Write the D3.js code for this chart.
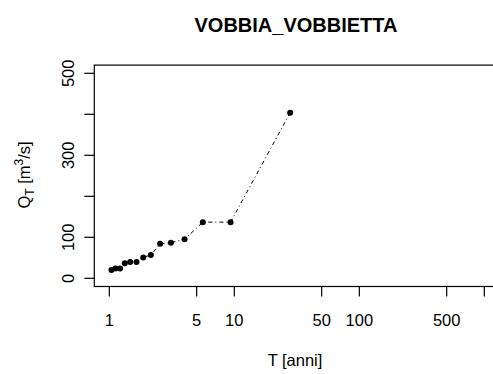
<!DOCTYPE html>
<html><head><meta charset="utf-8">
<script src="https://cdn.jsdelivr.net/npm/d3@7"></script>
<style>body{margin:0;background:#fff}svg{display:block}text{font-family:"Liberation Sans",Arial,sans-serif;fill:#000}</style>
</head><body>
<script>
const title = "VOBBIA_VOBBIETTA";
const returnPeriods = [1.04, 1.12, 1.22, 1.33, 1.47, 1.65, 1.87, 2.15, 2.55, 3.11, 4.0, 5.6, 9.33, 28];
const discharge = [20, 24, 24, 37, 40, 40, 51, 57, 84, 87, 95, 137, 137, 404];
const xTicks = [1, 5, 10, 50, 100, 500, 1000];
const xTickLabels = ["1", "5", "10", "50", "100", "500", ""];
const yTicks = [0, 100, 200, 300, 400, 500];
const yTickLabels = ["0", "100", "", "300", "", "500"];

const W = 493, H = 374;
const svg = d3.select("body").append("svg").attr("width", W).attr("height", H);

const x = d3.scaleLog().domain([1, 1000]).range([109.3, 484.3]);
const y = d3.scaleLinear().domain([0, 500]).range([278.3, 73.3]);

const boxL = x(Math.pow(10, -0.12)), boxR = x(Math.pow(10, 3.12));
const boxT = y(520), boxB = y(-20);

// plot box
svg.append("rect").attr("x", boxL).attr("y", boxT)
  .attr("width", boxR - boxL).attr("height", boxB - boxT)
  .attr("fill", "none").attr("stroke", "#000").attr("stroke-width", 1.2);

// x axis
const xa = svg.append("g");
xTicks.forEach((t, i) => {
  xa.append("line").attr("x1", x(t)).attr("x2", x(t)).attr("y1", boxB).attr("y2", boxB + 10)
    .attr("stroke", "#000").attr("stroke-width", 1.2);
  if (xTickLabels[i]) xa.append("text").attr("x", x(t)).attr("y", 326)
    .attr("text-anchor", "middle").attr("font-size", 16.5).text(xTickLabels[i]);
});

// y axis
const ya = svg.append("g");
yTicks.forEach((t, i) => {
  ya.append("line").attr("x1", boxL - 10).attr("x2", boxL).attr("y1", y(t)).attr("y2", y(t))
    .attr("stroke", "#000").attr("stroke-width", 1.2);
  if (yTickLabels[i]) ya.append("text")
    .attr("transform", `translate(73.5,${y(t)}) rotate(-90)`)
    .attr("text-anchor", "middle").attr("font-size", 16.5).text(yTickLabels[i]);
});

// data line
const data = returnPeriods.map((t, i) => ({t, q: discharge[i]}));
svg.append("path").datum(data)
  .attr("d", d3.line().x(d => x(d.t)).y(d => y(d.q)))
  .attr("fill", "none").attr("stroke", "#000").attr("stroke-width", 1)
  .attr("stroke-dasharray", "1,3,4,3");
svg.append("g").selectAll("circle").data(data).join("circle")
  .attr("cx", d => x(d.t)).attr("cy", d => y(d.q)).attr("r", 3).attr("fill", "#000");

// title
svg.append("text").attr("x", 296).attr("y", 32).attr("text-anchor", "middle")
  .attr("font-size", 20).attr("font-weight", "bold").text(title);

// x label
svg.append("text").attr("x", 295).attr("y", 366).attr("text-anchor", "middle")
  .attr("font-size", 16.5).text("T [anni]");

// y label
const yl = svg.append("text").attr("transform", "translate(30,175) rotate(-90)")
  .attr("text-anchor", "middle").attr("font-size", 16.5);
yl.append("tspan").text("Q");
yl.append("tspan").attr("font-size", 12).attr("dy", 4).text("T");
yl.append("tspan").attr("dy", -4).text(" [m");
yl.append("tspan").attr("font-size", 12).attr("dy", -7).text("3");
yl.append("tspan").attr("dy", 7).text("/s]");
</script>
</body></html>
